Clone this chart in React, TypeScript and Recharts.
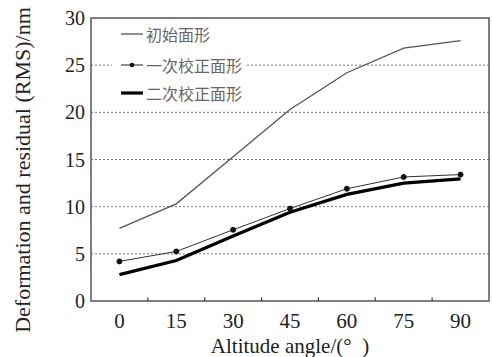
import React from "react";
import { LineChart, Line, XAxis, YAxis, CartesianGrid, ReferenceArea, ReferenceLine } from "recharts";

const angles = [0, 15, 30, 45, 60, 75, 90];
const initialShape = [7.7, 10.3, 15.3, 20.3, 24.2, 26.8, 27.6];
const firstCorrection = [4.2, 5.25, 7.55, 9.8, 11.9, 13.15, 13.4];
const secondCorrection = [2.8, 4.3, 6.9, 9.4, 11.3, 12.5, 12.95];
const xTicks = [0, 15, 30, 45, 60, 75, 90];
const xMinorTicks = [7.5, 22.5, 37.5, 52.5, 67.5, 82.5];
const yTicks = [0, 5, 10, 15, 20, 25, 30];
const legendNames = ["初始面形", "一次校正面形", "二次校正面形"];
const yTitle = "Deformation and residual (RMS)/nm";
const xTitle = "Altitude angle/(°\u00a0\u00a0)";

const data = angles.map((a, i) => ({
  angle: a,
  s0: initialShape[i],
  s1: firstCorrection[i],
  s2: secondCorrection[i],
}));

const serif = "'Liberation Serif', 'Times New Roman', serif";
const cjk = "'Noto Sans CJK SC', sans-serif";

const YTitle = () => (
  <text
    x={22}
    y={170}
    transform="rotate(-90 22 170)"
    textAnchor="middle"
    dominantBaseline="central"
    style={{ fontFamily: serif, fontSize: 22, fill: "#222" }}
  >
    {yTitle}
  </text>
);

export default function App() {
  return (
    <div style={{ position: "absolute", left: 0, top: 0, width: 492, height: 357, background: "#fff" }}>
      <LineChart width={492} height={357} data={data} margin={{ top: 18, right: 3, left: 0, bottom: 0 }}>
        <CartesianGrid vertical={false} stroke="#777" strokeDasharray="2 2" horizontalValues={[5, 10, 15, 20, 25]} />
        <XAxis
          dataKey="angle"
          type="number"
          domain={[-7.5, 97.5]}
          ticks={xTicks}
          tickLine={false}
          axisLine={false}
          height={56}
          tickSize={6}
          tickMargin={6}
          tick={{ fontFamily: serif, fontSize: 21, fill: "#222" }}
          label={{ value: xTitle, position: "insideBottom", offset: 4, style: { fontFamily: serif, fontSize: 21, fill: "#222" } }}
        />
        <YAxis
          type="number"
          domain={[0, 30]}
          ticks={yTicks}
          width={91}
          tickLine={false}
          axisLine={false}
          tickSize={4}
          tickMargin={2}
          tick={{ fontFamily: serif, fontSize: 20, fill: "#222" }}
          label={{ position: "insideLeft", content: YTitle }}
        />
        {xMinorTicks.map((t) => (
          <ReferenceLine key={t} segment={[{ x: t, y: 0 }, { x: t, y: 0.4 }]} stroke="#444" strokeWidth={1.2} />
        ))}
        <ReferenceArea x1={-7.5} x2={97.5} y1={0} y2={30} fill="none" stroke="#555" strokeWidth={1.5} ifOverflow="visible" />
        <Line dataKey="s0" stroke="#555" strokeWidth={1.3} dot={false} isAnimationActive={false} />
        <Line dataKey="s1" stroke="#333" strokeWidth={1} dot={{ r: 2.5, fill: "#111", stroke: "#111" }} isAnimationActive={false} />
        <Line dataKey="s2" stroke="#000" strokeWidth={3.2} dot={false} isAnimationActive={false} />
      </LineChart>
      <div style={{ position: "absolute", left: 112, top: 22, width: 133, height: 84, background: "#fff" }}>
        {legendNames.map((name, i) => (
          <div key={name} style={{ position: "absolute", left: 0, top: [3, 34, 62][i], height: 18, display: "flex", alignItems: "center" }}>
            <svg width={33} height={18} style={{ display: "block" }}>
              <line x1={9} x2={31} y1={9} y2={9} stroke={i === 2 ? "#000" : "#444"} strokeWidth={i === 2 ? 3.2 : 1.2} />
              {i === 1 && <circle cx={20} cy={9} r={2.3} fill="#111" />}
            </svg>
            <span style={{ fontFamily: cjk, fontSize: 16, color: "#666", marginLeft: 1, whiteSpace: "nowrap", lineHeight: "18px" }}>{name}</span>
          </div>
        ))}
      </div>
    </div>
  );
}
